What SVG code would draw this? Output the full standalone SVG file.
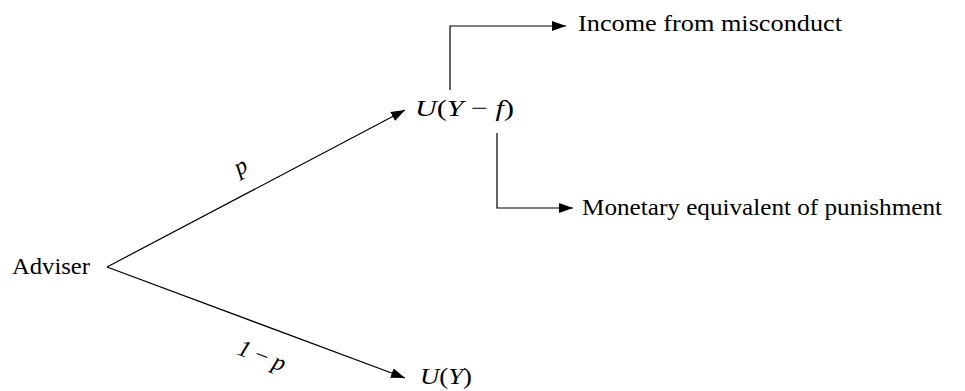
<svg xmlns="http://www.w3.org/2000/svg" width="965" height="391" viewBox="0 0 965 391">
<style>
text{font-family:"Liberation Serif","Times New Roman",serif;font-size:24px;fill:#000}
.i{font-style:italic}
.c{fill:none;stroke:#000;stroke-width:1.2}
</style>
<defs>
<marker id="ah" markerUnits="userSpaceOnUse" markerWidth="15" markerHeight="11" refX="14" refY="5" orient="auto">
<path d="M0,0 L14,5 L0,10 z" fill="#000"/>
</marker>
</defs>
<rect width="965" height="391" fill="#fff"/>
<g id="connectors">
<line class="c" x1="107" y1="267" x2="405" y2="110" marker-end="url(#ah)"/>
<line class="c" x1="107" y1="267" x2="405" y2="378" marker-end="url(#ah)"/>
<polyline class="c" points="450,90 450,26 566,26" marker-end="url(#ah)"/>
<polyline class="c" points="497,133 497,208 573,208" marker-end="url(#ah)"/>
<text class="i" transform="translate(244,173) rotate(-28)" text-anchor="middle">p</text>
<text transform="translate(259,363) rotate(21)" text-anchor="middle"><tspan class="i">1</tspan> − <tspan class="i">p</tspan></text>
</g>
<g id="adviser"><text x="12" y="274" textLength="78" lengthAdjust="spacingAndGlyphs">Adviser</text></g>
<g id="uyf"><text x="415" y="116" textLength="99" lengthAdjust="spacingAndGlyphs"><tspan class="i">U</tspan>(<tspan class="i">Y</tspan> − <tspan class="i">f</tspan>)</text></g>
<g id="uy"><text x="420" y="384" textLength="52" lengthAdjust="spacingAndGlyphs"><tspan class="i">U</tspan>(<tspan class="i">Y</tspan>)</text></g>
<g id="income"><text x="578" y="31" textLength="264" lengthAdjust="spacingAndGlyphs">Income from misconduct</text></g>
<g id="monetary"><text x="582" y="215" textLength="360" lengthAdjust="spacingAndGlyphs">Monetary equivalent of punishment</text></g>
</svg>
